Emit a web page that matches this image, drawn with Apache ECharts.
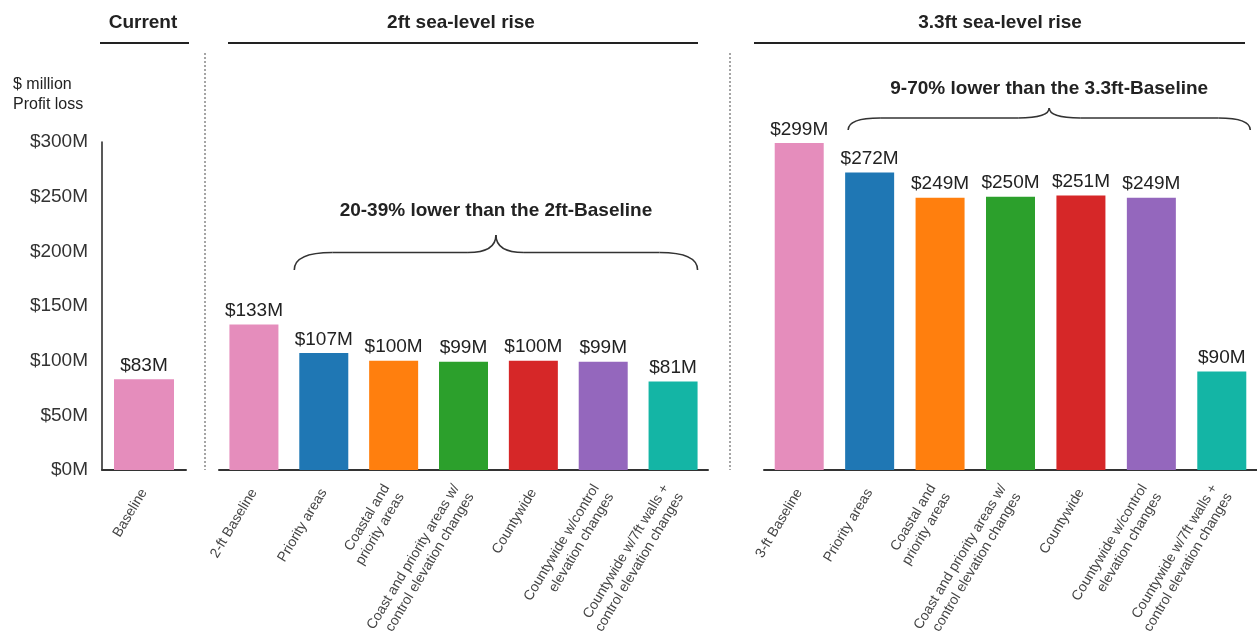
<!DOCTYPE html>
<html>
<head>
<meta charset="utf-8">
<title>Profit loss by sea-level rise scenario</title>
<script src="https://cdn.jsdelivr.net/npm/echarts@6/dist/echarts.min.js"></script>
<style>
  html, body { margin: 0; padding: 0; background: #fff; }
  #chart { width: 1257px; height: 641px; }
</style>
</head>
<body>
<div id="chart"></div>
<script>
// ---- data ----
const currentCategories = ['Baseline'];
const currentValues = [83];

const categories2ft = [
  '2-ft Baseline',
  'Priority areas',
  'Coastal and\npriority areas',
  'Coast and priority areas w/\ncontrol elevation changes',
  'Countywide',
  'Countywide w/control\nelevation changes',
  'Countywide w/7ft walls +\ncontrol elevation changes'
];
const values2ft = [133, 107, 100, 99, 100, 99, 81];

const categories33ft = [
  '3-ft Baseline',
  'Priority areas',
  'Coastal and\npriority areas',
  'Coast and priority areas w/\ncontrol elevation changes',
  'Countywide',
  'Countywide w/control\nelevation changes',
  'Countywide w/7ft walls +\ncontrol elevation changes'
];
const values33ft = [299, 272, 249, 250, 251, 249, 90];

const yMin = 0;
const yMax = 300;
const yStep = 50;

const panelTitles = ['Current', '2ft sea-level rise', '3.3ft sea-level rise'];
const braceNotes = ['20-39% lower than the 2ft-Baseline', '9-70% lower than the 3.3ft-Baseline'];
const scenarioColors = ['#e58dbc', '#1f77b4', '#ff7f0e', '#2ca02c', '#d62728', '#9467bd', '#14b5a5'];

// ---- styling ----
const FONT = '"Liberation Sans", Arial, sans-serif';
const INK = '#222';

function money(v) { return '$' + v + 'M'; }

function coloured(values) {
  return values.map((v, i) => ({ value: v, itemStyle: { color: scenarioColors[i] } }));
}

function xAxisFor(gridIndex, cats) {
  return {
    type: 'category',
    gridIndex: gridIndex,
    data: cats,
    axisLine: { lineStyle: { color: '#333', width: 2 } },
    axisTick: { show: false },
    axisLabel: {
      interval: 0,
      rotate: 59,
      margin: 20,
      fontFamily: FONT,
      fontSize: 14,
      lineHeight: 17,
      color: '#444'
    }
  };
}

function yAxisFor(gridIndex, visible) {
  return {
    type: 'value',
    gridIndex: gridIndex,
    min: yMin,
    max: yMax,
    interval: yStep,
    splitLine: { show: false },
    axisTick: { show: false },
    axisLine: { show: visible, lineStyle: { color: INK, width: 1.5 } },
    axisLabel: {
      show: visible,
      margin: 14,
      fontFamily: FONT,
      fontSize: 19,
      color: '#333',
      formatter: money
    }
  };
}

function barSeries(index, values, width) {
  return {
    type: 'bar',
    xAxisIndex: index,
    yAxisIndex: index,
    barWidth: width,
    data: coloured(values),
    label: {
      show: true,
      position: 'top',
      distance: 4,
      fontFamily: FONT,
      fontSize: 19,
      color: INK,
      formatter: p => money(p.value)
    }
  };
}

const chart = echarts.init(document.getElementById('chart'));

const headerY = 23;
const ruleY = 43;

const staticGraphics = [
  // y-axis unit caption
  { type: 'text', left: 13, top: 75, style: { text: '$ million\nProfit loss', font: '16px ' + FONT, fill: INK, lineHeight: 20 } },
  // panel headings with rules beneath
  { type: 'text', x: 143, y: headerY, style: { text: panelTitles[0], font: 'bold 19px ' + FONT, fill: INK, align: 'center', verticalAlign: 'middle' } },
  { type: 'text', x: 461, y: headerY, style: { text: panelTitles[1], font: 'bold 19px ' + FONT, fill: INK, align: 'center', verticalAlign: 'middle' } },
  { type: 'text', x: 1000, y: headerY, style: { text: panelTitles[2], font: 'bold 19px ' + FONT, fill: INK, align: 'center', verticalAlign: 'middle' } },
  { type: 'line', shape: { x1: 100, y1: ruleY, x2: 189, y2: ruleY }, style: { stroke: INK, lineWidth: 2 } },
  { type: 'line', shape: { x1: 228, y1: ruleY, x2: 698, y2: ruleY }, style: { stroke: INK, lineWidth: 2 } },
  { type: 'line', shape: { x1: 754, y1: ruleY, x2: 1245, y2: ruleY }, style: { stroke: INK, lineWidth: 2 } },
  // dotted panel separators
  { type: 'line', shape: { x1: 205, y1: 53, x2: 205, y2: 470 }, style: { stroke: '#888', lineWidth: 1.5, lineDash: [2, 2] } },
  { type: 'line', shape: { x1: 730, y1: 53, x2: 730, y2: 470 }, style: { stroke: '#888', lineWidth: 1.5, lineDash: [2, 2] } }
];

const gridBase = { top: 142, bottom: 171, outerBoundsMode: 'none', containLabel: false };

chart.setOption({
  animation: false,
  textStyle: { fontFamily: FONT },
  grid: [
    Object.assign({ left: 102, width: 84 }, gridBase),
    Object.assign({ left: 219, width: 489 }, gridBase),
    Object.assign({ left: 764, width: 493 }, gridBase)
  ],
  xAxis: [xAxisFor(0, currentCategories), xAxisFor(1, categories2ft), xAxisFor(2, categories33ft)],
  yAxis: [yAxisFor(0, true), yAxisFor(1, false), yAxisFor(2, false)],
  series: [barSeries(0, currentValues, 60), barSeries(1, values2ft, 49), barSeries(2, values33ft, 49)],
  graphic: staticGraphics
});

// ---- curly braces over the alternative scenarios ----
const braceStyle = { fill: 'none', stroke: '#333', lineWidth: 1.6 };

function curve(xa, ya, cx, cy, xb, yb) {
  return { type: 'bezierCurve', shape: { x1: xa, y1: ya, cpx1: cx, cpy1: cy, x2: xb, y2: yb }, style: braceStyle };
}
function straight(xa, ya, xb, yb) {
  return { type: 'line', shape: { x1: xa, y1: ya, x2: xb, y2: yb }, style: braceStyle };
}
function braceParts(x0, x1, yEnd, yFlat, yPeak, rEnd, rMid) {
  const xm = (x0 + x1) / 2;
  return [
    curve(x0, yEnd, x0, yFlat, x0 + rEnd, yFlat),
    straight(x0 + rEnd, yFlat, xm - rMid, yFlat),
    curve(xm - rMid, yFlat, xm, yFlat, xm, yPeak),
    curve(xm, yPeak, xm, yFlat, xm + rMid, yFlat),
    straight(xm + rMid, yFlat, x1 - rEnd, yFlat),
    curve(x1 - rEnd, yFlat, x1, yFlat, x1, yEnd)
  ];
}

// each brace spans from the second to the last bar of its panel;
// vertical placement is given in axis units
const braces = [
  { panel: 1, from: 1, to: 6, padL: -5, padR: 0, end: 183, flat: 199, peak: 215, note: 237, rEnd: 38, rMid: 28, text: braceNotes[0] },
  { panel: 2, from: 1, to: 6, padL: 3, padR: 4, end: 311, flat: 322, peak: 331, note: 349, rEnd: 32, rMid: 31, text: braceNotes[1] }
];

let braceGraphics = [];
braces.forEach(b => {
  const half = 24.5;
  const x0 = chart.convertToPixel({ xAxisIndex: b.panel }, b.from) - half + b.padL;
  const x1 = chart.convertToPixel({ xAxisIndex: b.panel }, b.to) + half + b.padR;
  const py = v => chart.convertToPixel({ yAxisIndex: b.panel }, v);
  braceGraphics = braceGraphics.concat(braceParts(x0, x1, py(b.end), py(b.flat), py(b.peak), b.rEnd, b.rMid));
  braceGraphics.push({
    type: 'text',
    x: (x0 + x1) / 2,
    y: py(b.note),
    style: { text: b.text, font: 'bold 19px ' + FONT, fill: INK, align: 'center', verticalAlign: 'middle' }
  });
});

chart.setOption({ graphic: staticGraphics.concat(braceGraphics) });
</script>
</body>
</html>
